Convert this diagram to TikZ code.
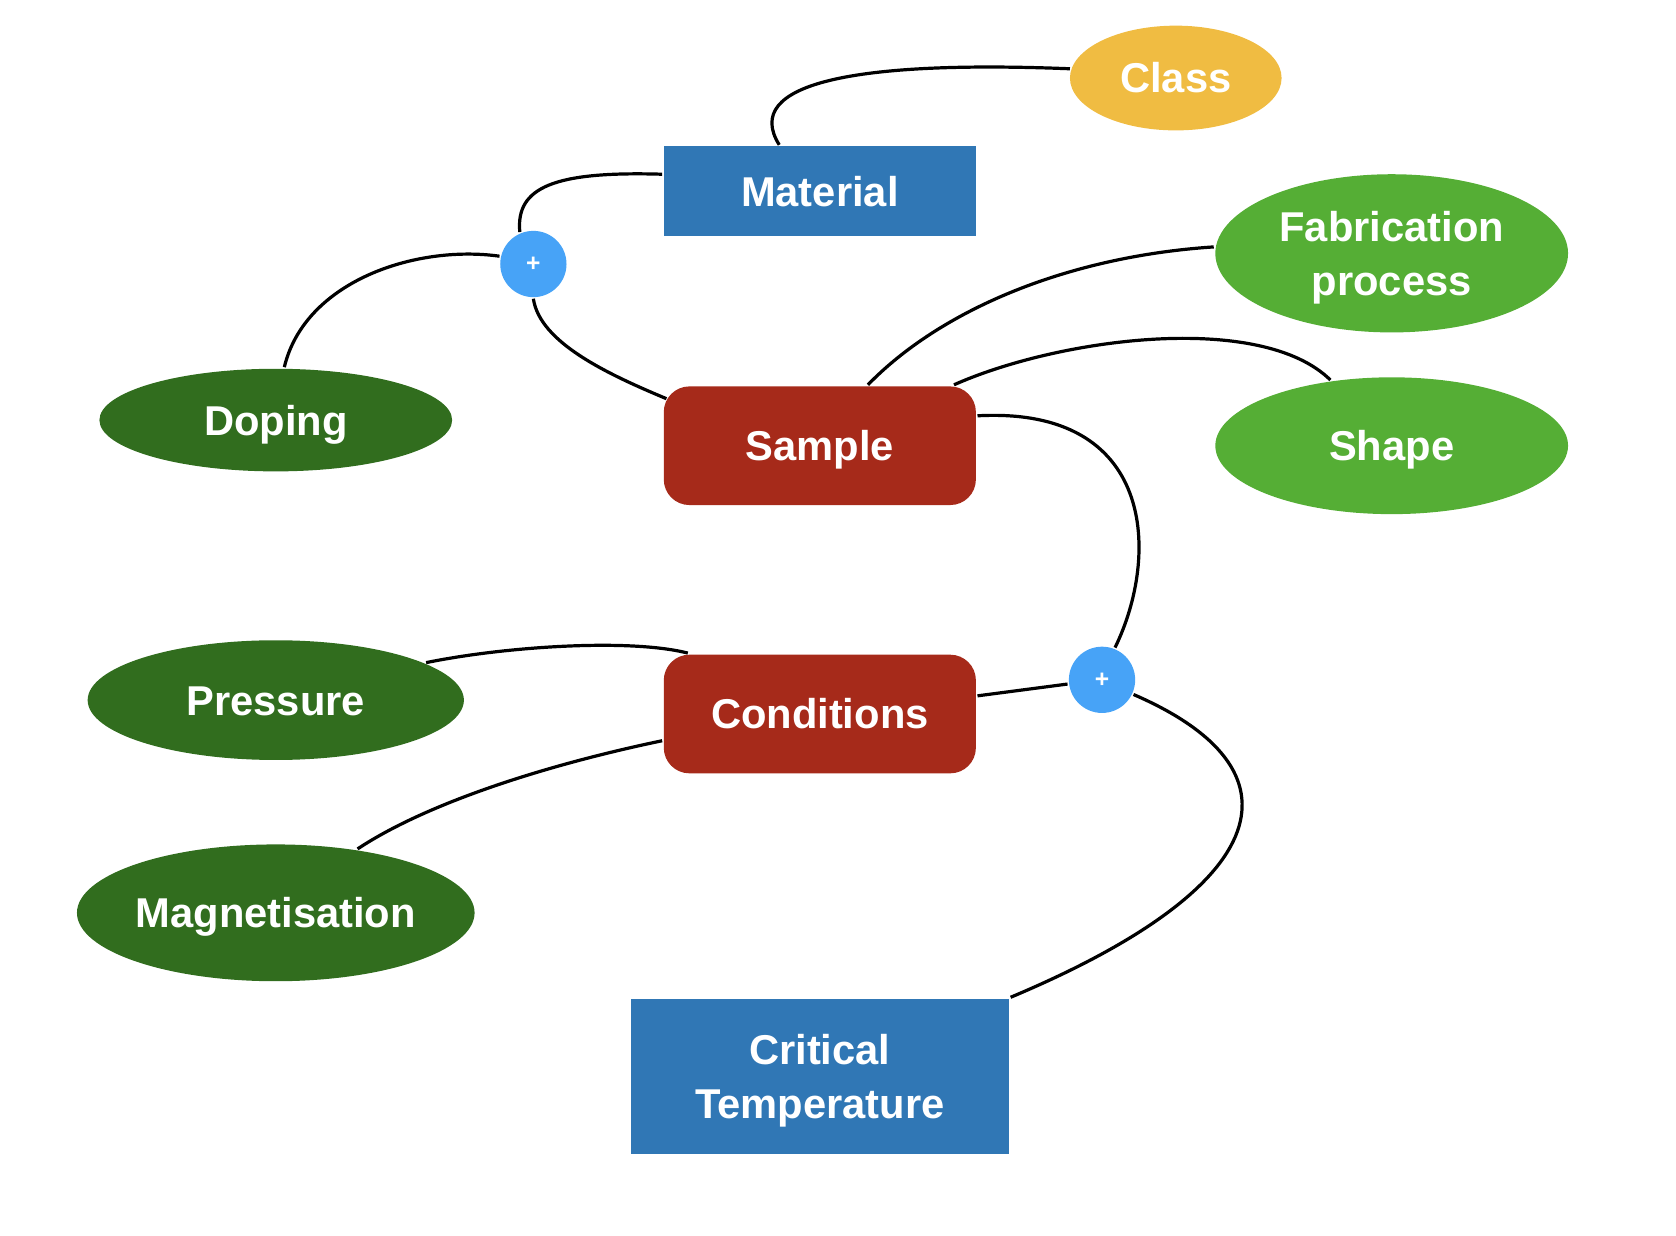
\documentclass[tikz,border=0pt]{standalone}
\usepackage{fontspec}
\setmainfont{Liberation Sans}
\usepackage{tikz}
\usetikzlibrary{shapes.geometric}

\definecolor{boxblue}{HTML}{3077B5}
\definecolor{boxred}{HTML}{A62A1A}
\definecolor{plusblue}{HTML}{47A3F7}
\definecolor{darkleaf}{HTML}{316D1E}
\definecolor{lightleaf}{HTML}{55AE35}
\definecolor{classgold}{HTML}{F0BC42}

\begin{document}
\begin{tikzpicture}
[
    x=1pt,y=-1pt,
    line width=3pt,
    every node/.style={text=white,align=center,inner sep=0pt,
        text height=28pt,text depth=0pt,
        font=\fontsize{39}{50}\selectfont\bfseries},
    twolines/.style={text height=78pt},
    bluebox/.style={rectangle,fill=boxblue},
    redbox/.style={rectangle,rounded corners=24pt,fill=boxred},
    leaf/.style={ellipse,minimum width=330pt},
    plus/.style={circle,fill=plusblue,minimum size=62pt,
        text height=14pt,font=\fontsize{23}{23}\selectfont\bfseries},
]
\useasboundingbox (0,0) rectangle (1568,1156);

% Boxes
\node[bluebox,minimum width=292pt,minimum height=84pt] (material) at (767,179) {Material};
\node[redbox,minimum width=292pt,minimum height=111pt] (sample) at (767,417) {Sample};
\node[redbox,minimum width=292pt,minimum height=111pt] (conditions) at (767,668) {Conditions};
\node[bluebox,twolines,minimum width=354pt,minimum height=145pt] (critical) at (767,1007) {Critical\\Temperature};

% Ellipses
\node[ellipse,fill=classgold,minimum width=198pt,minimum height=98pt] (class) at (1100,73) {Class};
\node[leaf,fill=darkleaf,minimum height=96pt] (doping) at (258,393) {Doping};
\node[leaf,twolines,fill=lightleaf,minimum height=148pt] (fabrication) at (1302,237) {Fabrication\\process};
\node[leaf,fill=lightleaf,minimum height=128pt] (shape) at (1302,417) {Shape};
\node[leaf,fill=darkleaf,minimum width=352pt,minimum height=112pt] (pressure) at (258,655) {Pressure};
\node[leaf,fill=darkleaf,minimum width=372pt,minimum height=128pt] (magnetisation) at (258,854) {Magnetisation};

% Plus points
\node[plus] (plusA) at (499,247) {+};
\node[plus] (plusB) at (1031,636) {+};

% Links
\draw ([xshift=-38pt]material.north) .. controls +(-36,-58) and +(-200,-8) .. (class.175);
\draw ([yshift=16pt]material.west) .. controls +(-101,-3) and +(-4,-42) .. (plusA.113);
\draw ([xshift=8pt]doping.north) .. controls +(19,-80) and +(-79,-11) .. (plusA.167);
\draw (plusA.south) .. controls +(6,41) and +(-55,-23) .. ([xshift=4pt,yshift=-13pt]sample.north west);
\draw ([xshift=45pt]sample.north) .. controls +(68,-70) and +(-137,9) .. ([yshift=6pt]fabrication.west);
\draw ([xshift=-22pt]sample.north east) .. controls +(99,-44) and +(-65,-64) .. (shape.133);
\draw ([yshift=28pt]sample.east) .. controls +(167,-9) and +(42,-86) .. (plusB.68);
\draw ([yshift=17pt]conditions.east) -- (plusB.187);
\draw (pressure.14) .. controls +(73,-15) and +(-55,-14) .. ([xshift=24pt]conditions.north west);
\draw ([yshift=-25pt]conditions.west) .. controls +(-101,21) and +(68,-45) .. (magnetisation.38);
\draw (plusB.-25) .. controls +(162,70) and +(250,-105) .. (critical.north east);
\end{tikzpicture}
\end{document}
